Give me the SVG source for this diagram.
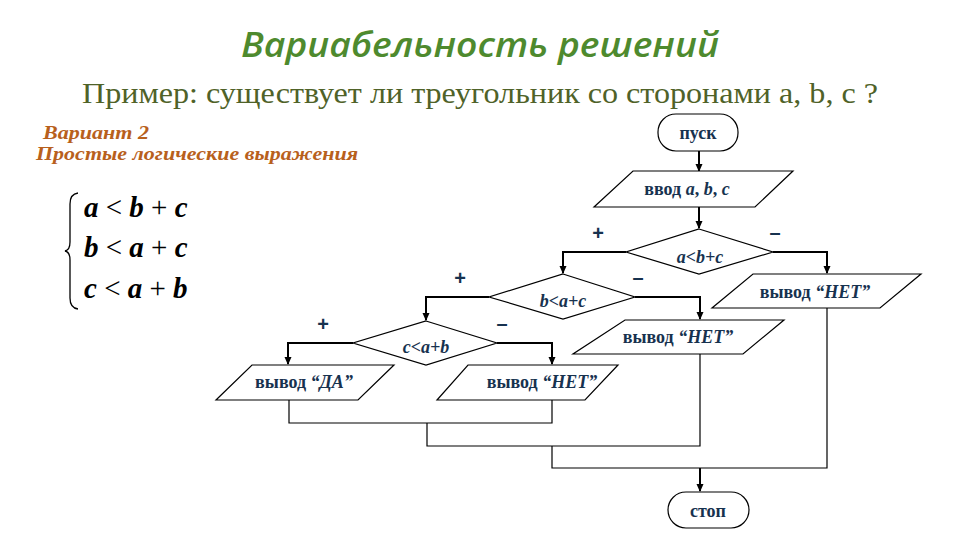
<svg xmlns="http://www.w3.org/2000/svg" width="960" height="540" viewBox="0 0 960 540">
<defs>
<marker id="ah" markerWidth="8" markerHeight="8" refX="7" refY="4" orient="auto" markerUnits="userSpaceOnUse">
<path d="M0,0.5 L8,4 L0,7.5 Z" fill="#000"/>
</marker>
<style>
.shape{fill:#fff;stroke:#000;stroke-width:1.2}
.ln{fill:none;stroke:#000;stroke-width:1.2}
.ar{fill:none;stroke:#000;stroke-width:2;marker-end:url(#ah)}
.t{font-family:"Liberation Serif","DejaVu Serif",serif;font-size:18px;font-weight:bold;fill:#17324f;text-anchor:middle}
.i{font-style:italic}
.sg{font-family:"Liberation Sans","DejaVu Sans",sans-serif;font-size:20px;font-weight:bold;fill:#17324f;text-anchor:middle}
.eq{font-family:"Liberation Serif","DejaVu Serif",serif;font-size:29px;font-weight:bold;fill:#000}
</style>
</defs>
<rect width="960" height="540" fill="#fff"/>
<text x="480" y="57" font-family="'Open Sans','DejaVu Sans',sans-serif" font-size="35" font-style="italic" font-weight="600" fill="#4e8a2e" text-anchor="middle" textLength="478" lengthAdjust="spacingAndGlyphs">Вариабельность решений</text>
<text x="480" y="103" font-family="'Liberation Serif',serif" font-size="29" fill="#4f6228" text-anchor="middle" textLength="796" lengthAdjust="spacingAndGlyphs">Пример: существует ли треугольник со сторонами a, b, c ?</text>
<text x="43" y="139" font-family="'Liberation Serif',serif" font-size="19" font-style="italic" font-weight="bold" fill="#b8601c" textLength="106" lengthAdjust="spacingAndGlyphs">Вариант 2</text>
<text x="36" y="160" font-family="'Liberation Serif',serif" font-size="19" font-style="italic" font-weight="bold" fill="#b8601c" textLength="322" lengthAdjust="spacingAndGlyphs">Простые логические выражения</text>
<g id="system">
<path d="M78,193 Q70,194 70,204 L70,242 Q70,250 65,251 Q70,252 70,260 L70,298 Q70,308 78,309" fill="none" stroke="#000" stroke-width="1.3"/>
<text class="eq" x="84" y="217"><tspan font-style="italic">a</tspan><tspan font-weight="normal"> &lt; </tspan><tspan font-style="italic">b</tspan><tspan font-weight="normal"> + </tspan><tspan font-style="italic">c</tspan></text>
<text class="eq" x="84" y="257"><tspan font-style="italic">b</tspan><tspan font-weight="normal"> &lt; </tspan><tspan font-style="italic">a</tspan><tspan font-weight="normal"> + </tspan><tspan font-style="italic">c</tspan></text>
<text class="eq" x="84" y="298"><tspan font-style="italic">c</tspan><tspan font-weight="normal"> &lt; </tspan><tspan font-style="italic">a</tspan><tspan font-weight="normal"> + </tspan><tspan font-style="italic">b</tspan></text>
</g>
<g id="connectors">
<line class="ar" x1="699" y1="151" x2="699" y2="171"/>
<line class="ar" x1="699" y1="207" x2="699" y2="228"/>
<polyline class="ar" points="626,252 563,252 563,273"/>
<polyline class="ar" points="773,252 827,252 827,273"/>
<polyline class="ar" points="489,297 426,297 426,320"/>
<polyline class="ar" points="635,297 700,297 700,319"/>
<polyline class="ar" points="353,343 288,343 288,364"/>
<polyline class="ar" points="497,343 552,343 552,364"/>
<polyline class="ln" points="289,400 289,423 552,423 552,400"/>
<polyline class="ln" points="427,423 427,446 700,446 700,354"/>
<polyline class="ln" points="552,446 552,468 827,468 827,308"/>
<line class="ar" x1="700" y1="468" x2="700" y2="491"/>
<text class="sg" x="598" y="240">+</text>
<text class="sg" x="775" y="239">–</text>
<text class="sg" x="460" y="285">+</text>
<text class="sg" x="638" y="284">–</text>
<text class="sg" x="323" y="331">+</text>
<text class="sg" x="502" y="330">–</text>
</g>
<g id="start">
<rect class="shape" x="658" y="114" width="80" height="37" rx="18" ry="18"/>
<text class="t" x="698" y="139">пуск</text>
</g>
<g id="input">
<polygon class="shape" points="633,171 793,171 755,207 594,207"/>
<text class="t" x="687" y="195">ввод <tspan class="i">a</tspan>, <tspan class="i">b</tspan>, <tspan class="i">c</tspan></text>
</g>
<g id="cond1">
<polygon class="shape" points="699,229 773,252 699,274 626,252"/>
<text class="t i" x="700" y="263">a&lt;b+c</text>
</g>
<g id="out-no1">
<polygon class="shape" points="753,274 921,274 880,308 712,308"/>
<text class="t" x="815" y="298">вывод <tspan class="i">“НЕТ”</tspan></text>
</g>
<g id="cond2">
<polygon class="shape" points="563,274 635,297 563,319 489,297"/>
<text class="t i" x="563" y="307">b&lt;a+c</text>
</g>
<g id="out-no2">
<polygon class="shape" points="625,320 784,320 743,354 573,354"/>
<text class="t" x="678" y="343">вывод <tspan class="i">“НЕТ”</tspan></text>
</g>
<g id="cond3">
<polygon class="shape" points="426,321 497,343 426,365 353,343"/>
<text class="t i" x="426" y="353">c&lt;a+b</text>
</g>
<g id="out-yes">
<polygon class="shape" points="252,365 394,365 358,400 216,400"/>
<text class="t" x="304" y="388">вывод <tspan class="i">“ДА”</tspan></text>
</g>
<g id="out-no3">
<polygon class="shape" points="468,365 618,365 585,400 437,400"/>
<text class="t" x="542" y="388">вывод <tspan class="i">“НЕТ”</tspan></text>
</g>
<g id="stop">
<rect class="shape" x="668" y="492" width="81" height="36" rx="18" ry="18"/>
<text class="t" x="708" y="517">стоп</text>
</g>
</svg>
